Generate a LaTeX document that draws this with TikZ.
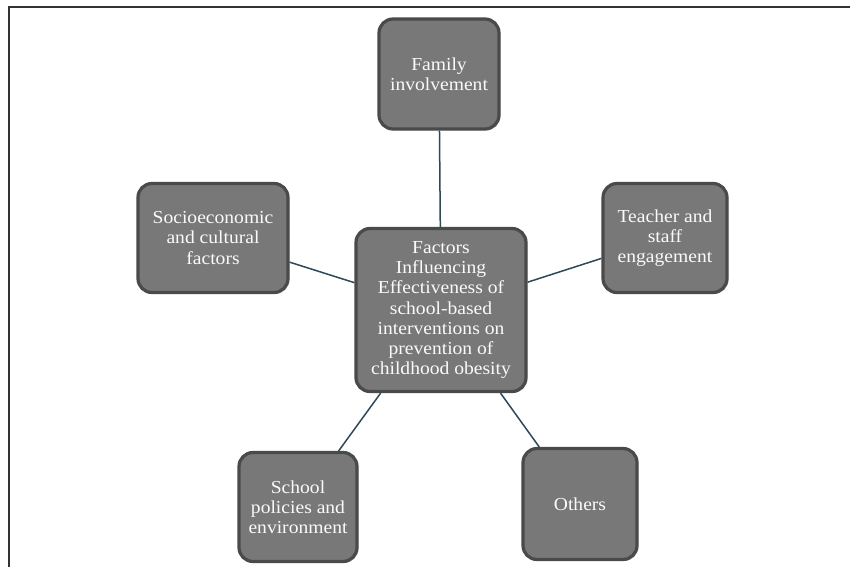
\documentclass[tikz,border=0pt]{standalone}
\usepackage{fontspec}
\setmainfont{Liberation Serif}[FakeStretch=1.07]
\usetikzlibrary{shadows}
\definecolor{boxgray}{HTML}{787878}
\definecolor{rimgray}{HTML}{4A4A4A}
\definecolor{linkcol}{HTML}{2E4858}
\definecolor{framecol}{HTML}{333333}
\definecolor{txtcol}{HTML}{FAFAFA}
\tikzset{
  factorbox/.style={rectangle, rounded corners=14pt, fill=boxgray, draw=rimgray,
    line width=3.2pt, align=center, text=txtcol, inner sep=2pt,
    font=\fontsize{18.3}{20.2}\selectfont,
    drop shadow={shadow xshift=1.4pt, shadow yshift=-1.4pt, opacity=0.35}},
  link/.style={draw=linkcol, line width=1.5pt}
}
\begin{document}
\begin{tikzpicture}[x=1pt,y=-1pt]
\useasboundingbox (0,0) rectangle (850,567);
\draw[framecol, line width=2pt] (9,567) -- (9,7) -- (850,7);

\node[factorbox, minimum width=170pt, minimum height=163pt] (c) at (441,310)
  {Factors\\Influencing\\Effectiveness of\\school-based\\interventions on\\prevention of\\childhood obesity};
\node[factorbox, minimum width=120pt, minimum height=110pt] (fam) at (439,74)
  {Family\\involvement};
\node[factorbox, minimum width=150pt, minimum height=109pt] (soc) at (213,238)
  {Socioeconomic\\and cultural\\factors};
\node[factorbox, minimum width=124pt, minimum height=109pt] (tea) at (665,238)
  {Teacher and\\staff\\engagement};
\node[factorbox, minimum width=118pt, minimum height=109pt] (sch) at (298,507)
  {School\\policies and\\environment};
\node[factorbox, minimum width=114pt, minimum height=111pt] (oth) at (580,504)
  {Others};

\path[link] (c) -- (fam);
\path[link] (c) -- (soc);
\path[link] (c) -- (tea);
\path[link] (c) -- (sch);
\path[link] (c) -- (oth);
\end{tikzpicture}
\end{document}
